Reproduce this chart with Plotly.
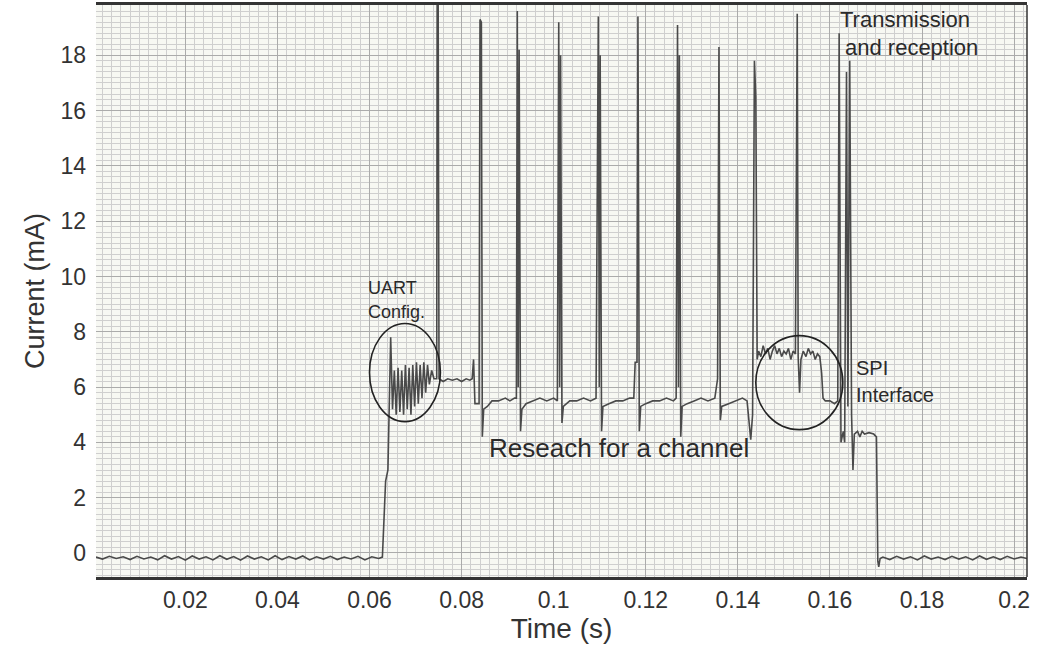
import plotly.graph_objects as go

# ---- data (time in s, current in mA) ----
idle_t = [0.0006, 0.0020, 0.0035, 0.0050, 0.0065, 0.0080, 0.0095, 0.0110, 0.0125, 0.0140,
          0.0155, 0.0170, 0.0185, 0.0200, 0.0215, 0.0230, 0.0245, 0.0260, 0.0275, 0.0290,
          0.0305, 0.0320, 0.0335, 0.0350, 0.0365, 0.0380, 0.0395, 0.0410, 0.0425, 0.0440,
          0.0455, 0.0470, 0.0485, 0.0500, 0.0515, 0.0530, 0.0545, 0.0560, 0.0575, 0.0590,
          0.0605, 0.0620, 0.0628]
idle_i = [-0.15, -0.22, -0.12, -0.20, -0.14, -0.24, -0.12, -0.22, -0.15, -0.25,
          -0.10, -0.22, -0.13, -0.26, -0.11, -0.22, -0.14, -0.25, -0.10, -0.23,
          -0.13, -0.26, -0.11, -0.22, -0.14, -0.25, -0.10, -0.24, -0.13, -0.22,
          -0.11, -0.25, -0.14, -0.22, -0.12, -0.24, -0.15, -0.22, -0.12, -0.25,
          -0.14, -0.20, -0.15]

uart_t = [0.0632, 0.0635, 0.0640, 0.0643, 0.0646, 0.0650, 0.0654, 0.0658, 0.0662, 0.0666,
          0.0670, 0.0674, 0.0678, 0.0682, 0.0686, 0.0690, 0.0694, 0.0698, 0.0702, 0.0706,
          0.0710, 0.0714, 0.0718, 0.0722, 0.0726, 0.0730, 0.0735, 0.0740, 0.0746, 0.0747,
          0.0749, 0.0751, 0.0760, 0.0770, 0.0780, 0.0790, 0.0800, 0.0810, 0.0818, 0.0823]
uart_i = [1.5, 2.6, 3.0, 5.0, 7.8, 5.2, 6.6, 5.0, 6.7, 5.1,
          6.6, 5.0, 6.8, 5.2, 6.7, 5.0, 6.8, 5.3, 6.9, 5.4,
          6.8, 5.6, 6.9, 5.8, 6.8, 6.1, 6.6, 6.3, 6.3, 21.0,
          21.0, 6.3, 6.2, 6.3, 6.25, 6.3, 6.2, 6.3, 6.25, 6.3]

search_t = [0.0826, 0.0829, 0.0838, 0.0840, 0.0843, 0.0845, 0.0848, 0.0856, 0.0866, 0.0880,
            0.0895, 0.0905, 0.0915, 0.0919, 0.0921, 0.0923, 0.0925, 0.0928, 0.0931, 0.0940,
            0.0955, 0.0970, 0.0985, 0.1000, 0.1008, 0.1011, 0.1013, 0.1015, 0.1018, 0.1021,
            0.1035, 0.1050, 0.1065, 0.1080, 0.1092, 0.1097, 0.1099, 0.1101, 0.1104, 0.1107,
            0.1120, 0.1135, 0.1150, 0.1165, 0.1174, 0.1177, 0.1181, 0.1183, 0.1186, 0.1189,
            0.1200, 0.1215, 0.1230, 0.1245, 0.1260, 0.1266, 0.1269, 0.1271, 0.1273, 0.1276,
            0.1279, 0.1290, 0.1305, 0.1320, 0.1335, 0.1350, 0.1356, 0.1359, 0.1362, 0.1365,
            0.1380, 0.1395, 0.1410, 0.1420, 0.1428, 0.1432, 0.1436, 0.1439, 0.1442]
search_i = [7.0, 5.4, 5.4, 19.3, 19.2, 4.2, 5.2, 5.3, 5.5, 5.5,
            5.6, 5.5, 5.6, 5.6, 19.6, 6.0, 18.2, 4.4, 5.2, 5.4,
            5.5, 5.6, 5.5, 5.6, 5.5, 19.2, 6.0, 18.0, 4.7, 5.3,
            5.5, 5.5, 5.6, 5.5, 5.6, 19.4, 6.0, 18.0, 4.4, 5.3,
            5.4, 5.5, 5.5, 5.6, 5.6, 6.9, 6.9, 19.4, 4.4, 5.3,
            5.4, 5.5, 5.5, 5.6, 5.5, 5.6, 19.1, 6.0, 18.0, 4.2,
            5.3, 5.4, 5.5, 5.6, 5.5, 5.6, 6.3, 18.3, 4.8, 5.3,
            5.4, 5.5, 5.6, 5.5, 4.1, 5.0, 17.8, 16.5, 7.0]

spi_t = [0.1445, 0.1450, 0.1455, 0.1460, 0.1465, 0.1470, 0.1475, 0.1480, 0.1485, 0.1490,
         0.1495, 0.1500, 0.1505, 0.1510, 0.1515, 0.1520, 0.1525, 0.1529, 0.1531, 0.1534,
         0.1537, 0.1542, 0.1548, 0.1553, 0.1558, 0.1563, 0.1568, 0.1573, 0.1578, 0.1582,
         0.1585, 0.1590, 0.1600, 0.1610, 0.1617]
spi_i = [7.3, 7.1, 7.5, 7.2, 7.4, 7.0, 7.3, 7.5, 7.2, 7.4,
         7.1, 7.3, 7.2, 7.4, 7.0, 7.3, 7.2, 19.5, 7.1, 5.8,
         7.0, 7.3, 7.1, 7.4, 7.2, 7.3, 7.0, 7.2, 7.1, 6.5,
         5.6, 5.5, 5.5, 5.4, 5.5]

tx_t = [0.1620, 0.1624, 0.1629, 0.1632, 0.1636, 0.1639, 0.1643, 0.1647, 0.1650, 0.1653,
        0.1660, 0.1665, 0.1670, 0.1675, 0.1685, 0.1695, 0.1701, 0.1704, 0.1706, 0.1709]
tx_i = [18.8, 4.0, 4.4, 4.0, 17.4, 5.3, 17.8, 5.0, 3.0, 4.3,
        4.4, 4.2, 4.4, 4.3, 4.35, 4.3, 4.2, -0.3, -0.5, -0.2]

end_t = [0.1715, 0.1730, 0.1745, 0.1760, 0.1775, 0.1790, 0.1805, 0.1820, 0.1835, 0.1850,
         0.1865, 0.1880, 0.1895, 0.1910, 0.1925, 0.1940, 0.1955, 0.1970, 0.1985, 0.2000,
         0.2015, 0.2028]
end_i = [-0.15, -0.24, -0.12, -0.22, -0.14, -0.25, -0.11, -0.22, -0.15, -0.24,
         -0.12, -0.22, -0.14, -0.25, -0.11, -0.23, -0.14, -0.24, -0.12, -0.22,
         -0.15, -0.2]

x_ticks = [0.02, 0.04, 0.06, 0.08, 0.1, 0.12, 0.14, 0.16, 0.18, 0.2]
x_tick_labels = ["0.02", "0.04", "0.06", "0.08", "0.1", "0.12", "0.14", "0.16", "0.18", "0.2"]
y_ticks = [0, 2, 4, 6, 8, 10, 12, 14, 16, 18]

time_s = idle_t + uart_t + search_t + spi_t + tx_t + end_t
current_ma = idle_i + uart_i + search_i + spi_i + tx_i + end_i

FONT = "Liberation Sans, Arial, sans-serif"
TXT = "#2a2a2a"

fig = go.Figure()
fig.add_trace(go.Scatter(x=time_s, y=current_ma, mode="lines",
                         line=dict(color="#4a4a4a", width=1.6), showlegend=False,
                         hoverinfo="skip"))

grid_minor = "#cfcfcf"
fig.update_xaxes(range=[0.0006, 0.2028], tickvals=x_ticks, ticktext=x_tick_labels,
                 automargin=False,
                 showgrid=True, gridcolor="#ababab", gridwidth=1,
                 minor=dict(dtick=0.002, tick0=0, showgrid=True, gridcolor=grid_minor, gridwidth=1),
                 showline=True, mirror=True, linecolor="#333333", linewidth=2.5,
                 ticks="", zeroline=False, ticklabelstandoff=1,
                 tickfont=dict(family=FONT, size=23, color="#333333"),
                 title=dict(text="Time (s)", font=dict(family=FONT, size=28, color="#333333"),
                            standoff=4))
fig.update_yaxes(range=[-0.87, 19.82], tickvals=y_ticks,
                 automargin=False,
                 showgrid=True, gridcolor="#ababab", gridwidth=1,
                 minor=dict(dtick=0.2, tick0=0, showgrid=True, gridcolor=grid_minor, gridwidth=1),
                 showline=False, ticks="", zeroline=False, ticklabelstandoff=9,
                 tickfont=dict(family=FONT, size=23, color="#333333"),
                 title=dict(text="Current (mA)", font=dict(family=FONT, size=27, color="#333333"),
                            standoff=7))

# right frame edge
fig.add_shape(type="line", xref="paper", yref="paper", x0=1, x1=1, y0=0, y1=1,
              line=dict(color="#333333", width=1.5))

# ellipses
fig.add_shape(type="circle", xref="x", yref="y", x0=0.0600, x1=0.0754, y0=4.75, y1=8.30,
              line=dict(color="#222222", width=1.6))
fig.add_shape(type="circle", xref="x", yref="y", x0=0.1439, x1=0.1628, y0=4.46, y1=7.86,
              line=dict(color="#222222", width=1.6))

def note(text, x, y, size):
    fig.add_annotation(text=text, x=x, y=y, xref="x", yref="y", showarrow=False,
                       xanchor="left", yanchor="middle", align="left",
                       font=dict(family=FONT, size=size, color=TXT))

note("UART", 0.0592, 9.6, 18)
note("Config.", 0.0592, 8.7, 18)
note("SPI", 0.1653, 6.7, 20)
note("Interface", 0.1653, 5.7, 20)
note("Reseach for a channel", 0.0856, 3.8, 26)
note("Transmission", 0.1618, 19.3, 22)
note("and reception", 0.1629, 18.3, 22)

fig.update_layout(width=1042, height=647, margin=dict(l=96, r=15, t=5, b=70),
                  paper_bgcolor="white", plot_bgcolor="#f7f8f3",
                  font=dict(family=FONT, color="#333333"))

fig.write_html("out.html")
